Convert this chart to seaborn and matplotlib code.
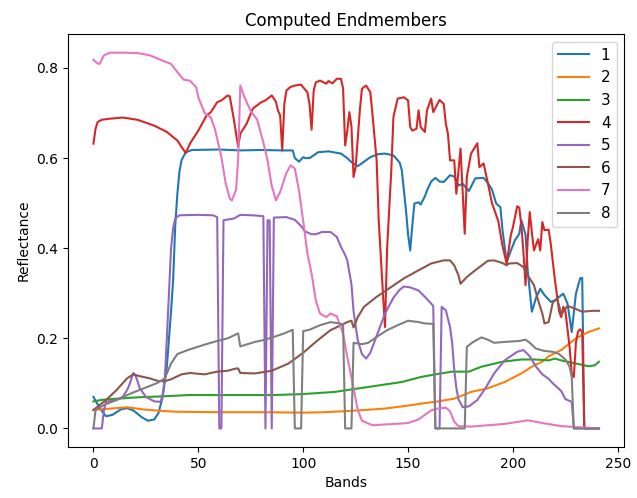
import pandas as pd
import matplotlib
matplotlib.use("Agg")
import matplotlib.pyplot as plt
import seaborn as sns

# values, band -> reflectance per endmember
b1 = [0, 3, 6, 9, 13, 16, 19, 23, 26, 29, 31, 33, 35, 37, 38, 39, 40, 41, 42, 44, 47, 60, 70, 80, 90, 95,
      96, 98, 100, 101, 103, 105, 107, 112, 118, 121, 123, 126, 129, 132, 136, 139, 143, 146, 147, 149, 150,
      151, 152, 153, 155, 156, 158, 159, 161, 163, 165, 167, 170, 172, 174, 176, 179, 182, 186, 188, 190,
      192, 194, 195, 197, 199, 201, 203, 204, 206, 207, 209, 211, 213, 215, 218, 220, 222, 224, 226, 228,
      230, 232, 233, 234, 241]
v1 = [0.070, 0.045, 0.027, 0.030, 0.042, 0.045, 0.040, 0.025, 0.017, 0.020, 0.034, 0.070, 0.137, 0.260,
      0.330, 0.450, 0.520, 0.570, 0.595, 0.613, 0.618, 0.619, 0.617, 0.618, 0.617, 0.617, 0.600, 0.592,
      0.602, 0.600, 0.600, 0.606, 0.613, 0.615, 0.610, 0.600, 0.591, 0.582, 0.592, 0.602, 0.609, 0.610,
      0.606, 0.590, 0.573, 0.484, 0.430, 0.395, 0.450, 0.499, 0.502, 0.497, 0.515, 0.528, 0.548, 0.556,
      0.548, 0.547, 0.562, 0.559, 0.539, 0.543, 0.527, 0.555, 0.556, 0.545, 0.530, 0.499, 0.491, 0.440,
      0.369, 0.395, 0.418, 0.432, 0.462, 0.430, 0.351, 0.259, 0.290, 0.310, 0.296, 0.281, 0.284, 0.292,
      0.299, 0.277, 0.214, 0.299, 0.333, 0.334, 0.0, 0.0]

b2 = [0, 8, 16, 24, 32, 40, 60, 80, 100, 110, 123, 139, 152, 156, 163, 172, 180, 188, 196, 204, 210, 214,
      217, 223, 230, 236, 241]
v2 = [0.041, 0.044, 0.047, 0.042, 0.039, 0.037, 0.036, 0.036, 0.035, 0.036, 0.039, 0.044, 0.052, 0.055,
      0.059, 0.066, 0.081, 0.089, 0.103, 0.122, 0.140, 0.148, 0.160, 0.174, 0.200, 0.214, 0.222]

b3 = [0, 5, 21, 37, 45, 61, 77, 85, 99, 115, 131, 147, 156, 163, 171, 179, 185, 195, 204, 210, 214, 217,
      220, 223, 226, 231, 236, 239, 241]
v3 = [0.060, 0.064, 0.069, 0.072, 0.074, 0.074, 0.074, 0.074, 0.076, 0.081, 0.092, 0.103, 0.114, 0.120,
      0.126, 0.126, 0.137, 0.148, 0.153, 0.153, 0.152, 0.151, 0.155, 0.151, 0.148, 0.143, 0.138, 0.140, 0.148]

b4 = [0, 1, 2, 4, 7, 14, 21, 29, 35, 40, 44, 46, 50, 54, 56, 59, 61, 64, 65, 67, 69, 70, 73, 76, 80, 82,
      85, 87, 88, 89, 90, 91, 92, 94, 96, 99, 100, 102, 103, 104, 105, 106, 108, 111, 112, 114, 116, 118,
      119, 120, 121, 122, 123, 124, 125, 127, 128, 130, 132, 133, 135, 136, 138, 139, 140, 142, 143, 145,
      148, 150, 151, 152, 154, 155, 156, 158, 159, 161, 162, 165, 167, 168, 169, 170, 172, 173, 175, 177,
      178, 180, 182, 183, 184, 186, 188, 190, 193, 195, 197, 199, 200, 202, 203, 204, 205, 206, 207, 208,
      209, 210, 212, 213, 214, 215, 217, 218, 220, 222, 223, 224, 225, 226, 227, 228, 229, 230, 231, 232,
      233, 234, 241]
v4 = [0.632, 0.665, 0.680, 0.685, 0.687, 0.690, 0.685, 0.672, 0.658, 0.639, 0.611, 0.632, 0.661, 0.695,
      0.702, 0.724, 0.728, 0.739, 0.737, 0.684, 0.625, 0.654, 0.676, 0.710, 0.724, 0.728, 0.739, 0.725,
      0.705, 0.695, 0.617, 0.720, 0.750, 0.758, 0.761, 0.763, 0.757, 0.746, 0.720, 0.663, 0.750, 0.768,
      0.772, 0.765, 0.771, 0.766, 0.776, 0.776, 0.755, 0.628, 0.660, 0.702, 0.670, 0.558, 0.580, 0.706,
      0.754, 0.761, 0.746, 0.698, 0.595, 0.462, 0.300, 0.225, 0.400, 0.573, 0.691, 0.732, 0.735, 0.728,
      0.669, 0.661, 0.665, 0.706, 0.669, 0.658, 0.706, 0.732, 0.702, 0.729, 0.720, 0.676, 0.654, 0.595,
      0.595, 0.521, 0.621, 0.432, 0.558, 0.610, 0.625, 0.633, 0.580, 0.588, 0.545, 0.500, 0.460, 0.405,
      0.366, 0.430, 0.447, 0.493, 0.490, 0.450, 0.390, 0.318, 0.418, 0.480, 0.435, 0.395, 0.420, 0.395,
      0.458, 0.440, 0.441, 0.410, 0.329, 0.260, 0.247, 0.270, 0.260, 0.220, 0.180, 0.122, 0.114, 0.190,
      0.215, 0.220, 0.214, 0.0, 0.0]

b5 = [0, 4, 5, 6, 11, 14, 16, 17, 19, 20, 21, 22, 25, 29, 32, 33, 34, 35, 36, 37, 38, 39, 41, 50, 57, 59,
      60, 61, 62, 67, 70, 76, 81, 82, 83, 84, 85, 86, 92, 96, 99, 101, 104, 106, 109, 113, 116, 118, 120,
      121, 123, 124, 126, 128, 130, 132, 135, 139, 143, 146, 148, 151, 155, 158, 161, 162, 163, 165, 166,
      168, 170, 171, 172, 173, 174, 176, 179, 183, 187, 191, 196, 202, 205, 208, 211, 214, 217, 219, 223,
      225, 228, 229, 241]
v5 = [0.0, 0.0, 0.040, 0.059, 0.063, 0.070, 0.085, 0.095, 0.123, 0.118, 0.105, 0.090, 0.070, 0.060,
      0.059, 0.075, 0.110, 0.200, 0.300, 0.400, 0.445, 0.466, 0.473, 0.474, 0.473, 0.469, 0.0, 0.0, 0.462,
      0.466, 0.474, 0.473, 0.471, 0.0, 0.462, 0.462, 0.0, 0.468, 0.469, 0.463, 0.449, 0.437, 0.431, 0.431,
      0.436, 0.436, 0.425, 0.403, 0.385, 0.373, 0.320, 0.260, 0.196, 0.165, 0.155, 0.168, 0.205, 0.255,
      0.290, 0.308, 0.315, 0.313, 0.306, 0.292, 0.277, 0.272, 0.0, 0.0, 0.270, 0.262, 0.225, 0.190, 0.130,
      0.090, 0.065, 0.047, 0.049, 0.063, 0.090, 0.122, 0.151, 0.170, 0.174, 0.160, 0.137, 0.120, 0.110,
      0.100, 0.083, 0.065, 0.059, 0.0, 0.0]

b6 = [0, 6, 11, 16, 19, 22, 27, 31, 34, 37, 42, 46, 53, 59, 64, 68, 69, 70, 77, 85, 93, 100, 107, 113,
      118, 121, 123, 124, 126, 129, 135, 142, 148, 155, 161, 167, 170, 172, 174, 175, 178, 182, 188, 191,
      195, 197, 198, 202, 205, 207, 210, 212, 214, 215, 217, 219, 221, 223, 224, 226, 230, 233, 238, 241]
v6 = [0.041, 0.063, 0.085, 0.111, 0.120, 0.116, 0.111, 0.105, 0.105, 0.109, 0.120, 0.123, 0.120, 0.126,
      0.128, 0.133, 0.133, 0.123, 0.122, 0.128, 0.144, 0.168, 0.196, 0.218, 0.229, 0.236, 0.239, 0.224,
      0.247, 0.270, 0.292, 0.314, 0.333, 0.351, 0.366, 0.373, 0.373, 0.362, 0.340, 0.321, 0.336, 0.351,
      0.372, 0.373, 0.367, 0.362, 0.366, 0.367, 0.358, 0.340, 0.318, 0.284, 0.255, 0.233, 0.236, 0.280,
      0.288, 0.255, 0.259, 0.272, 0.265, 0.259, 0.261, 0.261]

b7 = [0, 2, 3, 5, 8, 14, 21, 27, 32, 37, 40, 43, 46, 49, 50, 53, 56, 58, 61, 63, 65, 66, 68, 69, 70, 72,
      75, 78, 81, 83, 85, 87, 89, 92, 94, 96, 98, 100, 102, 104, 106, 108, 111, 113, 116, 117, 119, 121,
      124, 126, 128, 133, 147, 150, 155, 158, 161, 164, 168, 170, 172, 174, 180, 196, 207, 214, 223, 234, 241]
v7 = [0.818, 0.810, 0.809, 0.828, 0.834, 0.834, 0.833, 0.828, 0.818, 0.809, 0.791, 0.774, 0.772, 0.757,
      0.735, 0.700, 0.690, 0.663, 0.602, 0.545, 0.510, 0.506, 0.530, 0.600, 0.761, 0.735, 0.704, 0.686,
      0.635, 0.595, 0.538, 0.506, 0.525, 0.567, 0.584, 0.577, 0.528, 0.460, 0.388, 0.344, 0.284, 0.255,
      0.247, 0.255, 0.249, 0.236, 0.210, 0.159, 0.090, 0.041, 0.017, 0.007, 0.011, 0.012, 0.020, 0.030,
      0.040, 0.044, 0.046, 0.038, 0.015, 0.005, 0.004, 0.010, 0.018, 0.012, 0.005, 0.002, 0.0]

b8 = [0, 1, 5, 11, 18, 24, 30, 34, 37, 40, 45, 53, 59, 64, 69, 70, 77, 81, 86, 91, 95, 96, 99, 100, 103,
      108, 113, 116, 119, 120, 123, 124, 128, 131, 135, 140, 145, 150, 155, 158, 162, 163, 177, 178, 181,
      185, 188, 191, 196, 203, 206, 208, 211, 215, 219, 222, 225, 227, 228, 229, 241]
v8 = [0.0, 0.041, 0.052, 0.063, 0.078, 0.089, 0.100, 0.111, 0.144, 0.165, 0.174, 0.186, 0.194, 0.200,
      0.211, 0.182, 0.192, 0.196, 0.203, 0.211, 0.219, 0.0, 0.0, 0.216, 0.219, 0.229, 0.236, 0.234, 0.231,
      0.0, 0.0, 0.190, 0.187, 0.190, 0.203, 0.218, 0.229, 0.239, 0.236, 0.233, 0.232, 0.0, 0.0, 0.181,
      0.192, 0.202, 0.197, 0.190, 0.192, 0.194, 0.197, 0.190, 0.177, 0.172, 0.170, 0.165, 0.153, 0.137,
      0.114, 0.0, 0.0]

names = ["1", "2", "3", "4", "5", "6", "7", "8"]
bands = [b1, b2, b3, b4, b5, b6, b7, b8]
values = [v1, v2, v3, v4, v5, v6, v7, v8]

frames = []
for name, b, v in zip(names, bands, values):
    frames.append(pd.DataFrame({"band": b, "reflectance": v, "endmember": name}))
df = pd.concat(frames, ignore_index=True)

fig, ax = plt.subplots(figsize=(6.37, 4.98), dpi=100)
fig.subplots_adjust(left=0.107, right=0.98, top=0.932, bottom=0.102)

sns.lineplot(data=df, x="band", y="reflectance", hue="endmember",
             palette="tab10", hue_order=names, ax=ax, linewidth=1.5)

ax.set_title("Computed Endmembers")
ax.set_xlabel("Bands")
ax.set_ylabel("Reflectance")
ax.set_xticks([0, 50, 100, 150, 200, 250])

# legend without the hue title, slightly larger text as in the reference
handles, labels = ax.get_legend_handles_labels()
ax.legend(handles, labels, loc="upper right", fontsize=11)

plt.savefig("out.png", dpi=100)
